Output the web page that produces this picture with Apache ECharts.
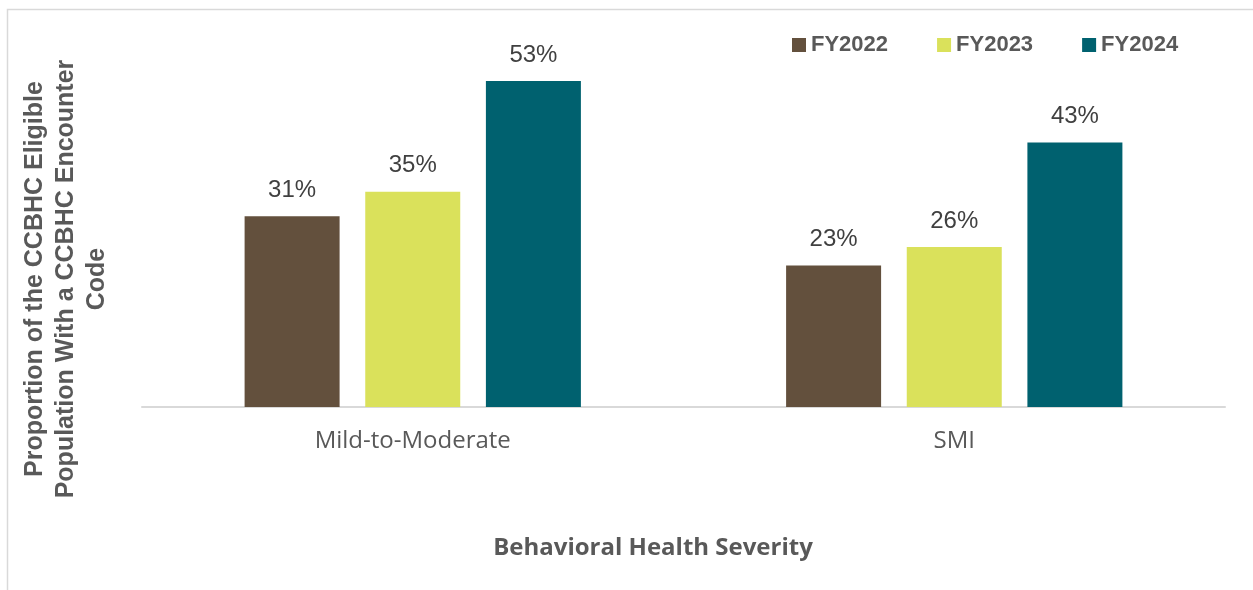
<!DOCTYPE html>
<html>
<head>
<meta charset="utf-8">
<script src="https://cdn.jsdelivr.net/npm/echarts@6/dist/echarts.min.js"></script>
<style>
  html, body { margin: 0; padding: 0; background: #ffffff; }
  #chart { width: 1253px; height: 590px; }
</style>
</head>
<body>
<div id="chart"></div>
<script>
// Categories and yearly proportions (percent)
const categories = ['Mild-to-Moderate', 'SMI'];
const seriesNames = ['FY2022', 'FY2023', 'FY2024'];
const fy2022 = [31, 23];
const fy2023 = [35, 26];
const fy2024 = [53, 43];
const seriesColors = ['#63503D', '#DAE15B', '#00616F'];

const yAxisTitle = 'Proportion of the CCBHC Eligible\nPopulation With a CCBHC Encounter\nCode';
const xAxisTitle = 'Behavioral Health Severity';

const chart = echarts.init(document.getElementById('chart'), null, { renderer: 'canvas' });

function barSeries(name, values, color) {
  return {
    name: name,
    type: 'bar',
    data: values,
    barWidth: 95,
    barGap: '27%',
    itemStyle: { color: color },
    label: {
      show: true,
      position: 'top',
      distance: 14,
      formatter: p => p.value + '%',
      fontFamily: 'Liberation Sans, Arial, sans-serif',
      fontSize: 24,
      color: '#404040'
    }
  };
}

const option = {
  backgroundColor: '#ffffff',
  animation: false,
  grid: { left: 142, right: 28, top: 38, bottom: 183 },
  legend: {
    data: seriesNames,
    left: 787,
    top: 29,
    itemWidth: 14,
    itemHeight: 14,
    itemGap: 49,
    icon: 'rect',
    textStyle: {
      fontFamily: 'Liberation Sans, Arial, sans-serif',
      fontWeight: 'bold',
      fontSize: 22,
      color: '#595959'
    }
  },
  xAxis: {
    type: 'category',
    data: categories,
    axisLine: { show: true, lineStyle: { color: '#d9d9d9', width: 2 } },
    axisTick: { show: false },
    axisLabel: {
      margin: 22,
      fontFamily: 'Open Sans, Noto Sans, sans-serif',
      fontSize: 24,
      color: '#595959'
    }
  },
  yAxis: {
    type: 'value',
    min: 0,
    max: 60,
    show: false,
    splitLine: { show: false }
  },
  graphic: [
    {
      type: 'rect',
      silent: true,
      shape: { x: 7.5, y: 9.5, width: 1400, height: 800 },
      style: { fill: 'none', stroke: '#d9d9d9', lineWidth: 1.5 }
    },
    {
      type: 'text',
      x: 66,
      y: 279,
      rotation: Math.PI / 2,
      style: {
        text: yAxisTitle,
        align: 'center',
        verticalAlign: 'middle',
        lineHeight: 31,
        fontFamily: 'Liberation Sans, Arial, sans-serif',
        fontWeight: 'bold',
        fontSize: 25,
        fill: '#595959'
      }
    },
    {
      type: 'text',
      x: 653,
      y: 548,
      style: {
        text: xAxisTitle,
        align: 'center',
        verticalAlign: 'middle',
        fontFamily: 'Open Sans, Noto Sans, sans-serif',
        fontWeight: 'bold',
        fontSize: 24,
        fill: '#595959'
      }
    }
  ],
  series: [
    barSeries(seriesNames[0], fy2022, seriesColors[0]),
    barSeries(seriesNames[1], fy2023, seriesColors[1]),
    barSeries(seriesNames[2], fy2024, seriesColors[2])
  ]
};

chart.setOption(option);
</script>
</body>
</html>
